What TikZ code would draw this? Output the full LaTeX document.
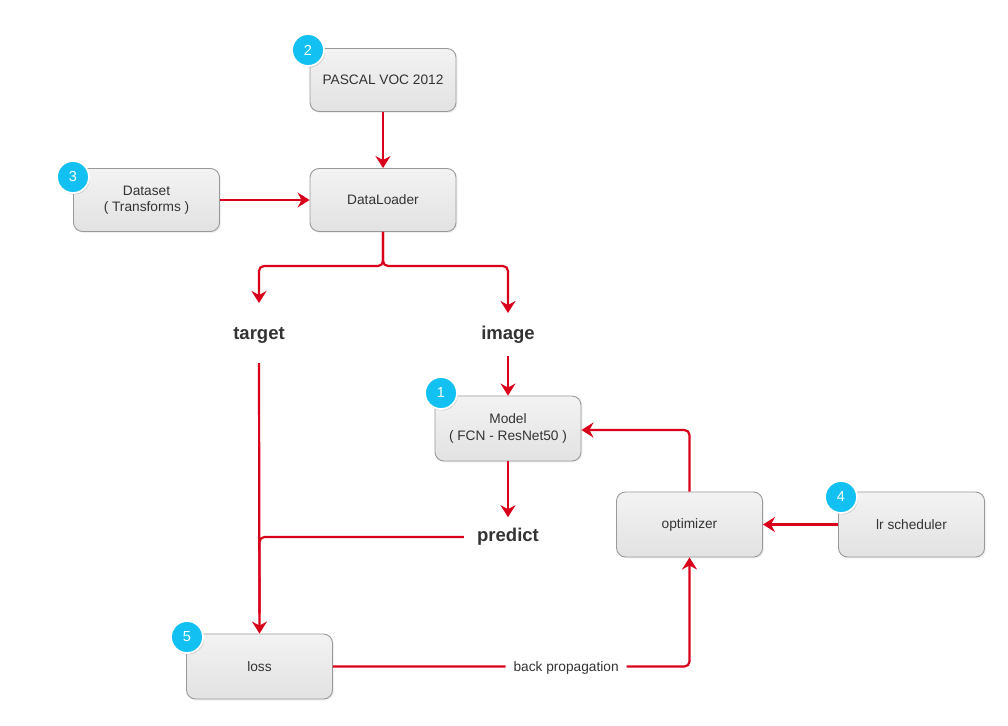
\documentclass[tikz,border=0pt]{standalone}
\usepackage{fontspec}
\setmainfont{Liberation Sans}
\usetikzlibrary{arrows.meta,shadows,calc}
\definecolor{linered}{HTML}{D9001B}
\definecolor{boxborder}{HTML}{999999}
\definecolor{boxtop}{HTML}{F3F3F3}
\definecolor{boxbot}{HTML}{E2E2E2}
\definecolor{badgeblue}{HTML}{12C0F2}
\definecolor{txt}{HTML}{333333}
\tikzset{
  box/.style={draw=boxborder, line width=0.9pt, rounded corners=9pt, top color=boxtop, bottom color=boxbot,
    minimum width=146pt, minimum height=63pt, align=center, text=txt,
    font=\fontsize{13.7}{16.5}\selectfont, inner sep=2pt,
    drop shadow={shadow xshift=1.5pt, shadow yshift=-1.5pt, opacity=0.12}},
  badge/.style={circle, fill=badgeblue, draw=white, line width=1.8pt, minimum size=32pt, inner sep=0pt,
    text=white, font=\fontsize{14.5}{16}\selectfont,
    drop shadow={shadow xshift=1pt, shadow yshift=-1.5pt, opacity=0.3}},
  lbl/.style={text=txt, font=\bfseries\fontsize{18.5}{20}\selectfont, inner sep=0pt},
  conn/.style={draw=linered, line width=2.2pt, rounded corners=5pt},
  arr/.style={conn, -{Stealth[length=12pt,width=15pt,inset=4pt]}},
}
\begin{document}
\begin{tikzpicture}[x=1pt,y=-1pt]
\useasboundingbox (0,0) rectangle (1008,725);
% boxes
\node[box] (voc) at (383,80) {PASCAL VOC 2012};
\node[box] (dataset) at (146.5,200) {Dataset\\( Transforms )};
\node[box] (loader) at (383,200) {DataLoader};
\node[box, minimum height=65pt] (model) at (508,428.5) {Model\\( FCN - ResNet50 )};
\node[box, minimum height=65pt] (optim) at (689.5,524.5) {optimizer};
\node[box, minimum height=65pt] (sched) at (911.5,524.5) {lr scheduler};
\node[box, minimum height=65pt] (loss) at (259.5,666.5) {loss};
% labels
\node[lbl] (target) at (259,335) {target};
\node[lbl] (image) at (508,335) {image};
\node[lbl] (predict) at (508,537) {predict};
% connectors
\draw[arr] (voc.south) -- (loader.north);
\draw[arr] (dataset.east) -- (loader.west);
\coordinate (split) at (383,266);
\coordinate (tgtTip) at (259,303);
\coordinate (imgTip) at (508,313);
\draw[arr] (loader.south) -- (split) -| (tgtTip);
\draw[arr] (loader.south) -- (split) -| (imgTip);
\draw[arr] ([yshift=-12pt]image.south) -- (model.north);
\draw[arr] (model.south) -- ([yshift=11pt]predict.north);
\draw[arr] ([yshift=-20pt]target.south) -- (loss.north);
\draw[conn] ([xshift=-13pt]predict.west) -| ([yshift=20pt]loss.north);
\draw[arr] (optim.north) |- ([yshift=-1.5pt]model.east);
\draw[arr] (sched.west) -- (optim.east);
\draw[arr] (loss.east) -| node[pos=0.327, yshift=-1pt, fill=white, text=txt, inner xsep=8pt, font=\fontsize{13.7}{15}\selectfont] (bp) {back propagation} (optim.south);
% badges
\node[badge] (b2) at (308,50) {2};
\node[badge] (b3) at (73,177) {3};
\node[badge] (b1) at (441,393) {1};
\node[badge] (b4) at (841,497) {4};
\node[badge] (b5) at (187,637) {5};
\end{tikzpicture}
\end{document}
